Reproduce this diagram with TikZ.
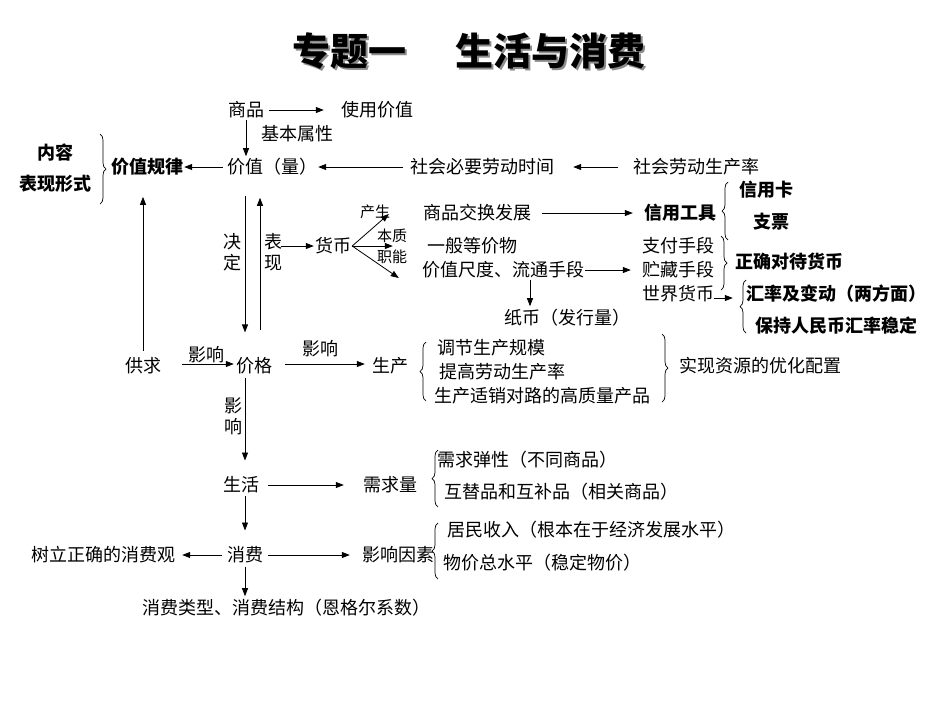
\documentclass[tikz,border=0pt]{standalone}
\usepackage{fontspec}
\setmainfont{Noto Sans CJK SC}
\usetikzlibrary{arrows.meta,decorations.pathreplacing,calc}
\newcommand{\titletext}{专题一\hspace{1.3em}生活与消费}
\begin{document}
\begin{tikzpicture}[x=1pt,y=-1pt,
  t/.style={inner sep=1pt,font=\fontsize{18}{21}\selectfont},
  tb/.style={inner sep=1pt,font=\fontsize{18}{21}\selectfont\bfseries},
  ts/.style={inner sep=0pt,font=\fontsize{15}{17}\selectfont},
  arr/.style={-{Triangle[length=8pt,width=6pt]},line width=0.8pt},
  br/.style={decorate,decoration={brace,amplitude=6pt},line width=0.7pt}]
\useasboundingbox (0,0) rectangle (950,713);
% title (with shadow in the same node)
\node[font=\fontsize{38}{40}\selectfont\bfseries] (title) at (469,51)
  {\makebox[0pt][l]{\raisebox{-2pt}[0pt][0pt]{\hspace{2pt}\color{black!45}\titletext}}\titletext};
% top rows
\node[t] (sp) at (246,110) {商品};
\node[t] (syjz) at (377,110) {使用价值};
\node[t] (jbsx) at (297,134) {基本属性};
\node[t] (jz) at (272,167) {价值（量）};
\node[tb] (jzgl) at (147,167) {价值规律};
\node[tb] (nr) at (55,153) {内容};
\node[tb] (bxxs) at (55,184) {表现形式};
\node[t] (shbyl) at (482,167) {社会必要劳动时间};
\node[t] (shldscl) at (696,167) {社会劳动生产率};
\draw[arr] ($(sp.east)+(4,0)$) -- ($(syjz.west)+(-16,0)$);
\draw[arr] (sp.south) -- ($(sp.south |- jz.north)+(0,-1)$);
\draw[arr] ($(jz.west)+(-3,0)$) -- (jzgl.east);
\draw[br] (100,134) -- (100,204);
\draw[arr] ($(shbyl.west)+(-6,0)$) -- (jz.east);
\draw[arr] ($(shldscl.west)+(-14,0)$) -- ($(shbyl.east)+(18,0)$);
% price column
\node[t] (gq) at (143,366) {供求};
\node[t] (jg) at (254,366) {价格};
\node[t] (sc) at (390,366) {生产};
\draw[arr] ($(gq.north)+(0,-6)$) -- ($(jzgl.south -| gq.north)+(0,20)$);
\draw[arr] ($(jz.south -| jg.north)+(-9,19)$) -- ($(jg.north)+(-9,-24)$);
\draw[arr] ($(jg.north)+(6,-26)$) -- ($(jz.south -| jg.north)+(6,21)$);
\node[t,align=center] (jd) at (232,252) {决\\定};
\node[t,align=center] (bx) at (273,252) {表\\现};
% money
\node[t] (hb) at (333,246) {货币};
\draw[arr] ($(bx.east |- hb.west)+(-2,0)$) -- (hb.west);
\node[t] (spjhfz) at (477,213) {商品交换发展};
\node[t] (ybdjw) at (472,246) {一般等价物};
\node[t] (jzcd) at (503,270) {价值尺度、流通手段};
\draw[arr] (hb.east) -- ($(spjhfz.west)+(-33,1)$);
\draw[arr] (hb.east) -- ($(ybdjw.west)+(-33,0)$);
\draw[arr] (hb.east) -- ($(jzcd.west)+(-22,8)$);
\node[ts] (lcs) at (375,212) {产生};
\node[ts] (lbz) at (392,236) {本质};
\node[ts] (lzn) at (392,257) {职能};
\node[tb] (xygj) at (680,213) {信用工具};
\draw[arr] ($(spjhfz.east)+(10,0)$) -- ($(xygj.west)+(-10,0)$);
\draw[br] (728,240) -- (728,182);
\node[tb] (xyk) at (766,190) {信用卡};
\node[tb] (zp) at (771,222) {支票};
\node[t] (zfsd) at (678,246) {支付手段};
\node[t] (zcsd) at (678,270) {贮藏手段};
\node[t] (sjhb) at (678,294) {世界货币};
\draw[arr] (jzcd.east) -- ($(zcsd.west)+(-10,0)$);
\draw[br] (721,236) -- (721,290);
\node[tb] (zqdd) at (789,262) {正确对待货币};
\node[tb] (hlbd) at (836,294) {汇率及变动（两方面）};
\node[tb] (bcrmb) at (836,326) {保持人民币汇率稳定};
\draw[br] (746,333) -- (746,280);
\draw[arr] ($(sjhb.east)+(-1,4)$) -- ($(hlbd.west)+(-12,4)$);
\node[t] (zb) at (567,318) {纸币（发行量）};
\draw[arr] ($(jzcd.south)+(27,0)$) -- ($(jzcd.south |- zb.north)+(27,-2)$);
% production
\draw[arr] ($(gq.east)+(20,-2)$) -- ($(jg.west)+(-1,-2)$);
\node[t] (lyx1) at (206,355) {影响};
\draw[arr] ($(jg.east)+(12,-2)$) -- ($(sc.west)+(-6,-2)$);
\node[t] (lyx2) at (320,349) {影响};
\draw[br] (426,401) -- (426,342);
\node[t] (tjsc) at (491,348) {调节生产规模};
\node[t] (tgld) at (502,372) {提高劳动生产率};
\node[t] (scsx) at (542,396) {生产适销对路的高质量产品};
\draw[br] (662,334) -- (662,402);
\node[t] (sxzy) at (760,366) {实现资源的优化配置};
% life & consumption
\node[t] (sh) at (241,485) {生活};
\node[t,align=center] (lyx3) at (233,416) {影\\响};
\draw[arr] ($(jg.south)+(-9,2)$) -- ($(sh.north)+(4,-15)$);
\node[t] (xql) at (390,485) {需求量};
\draw[arr] ($(sh.east)+(8,0)$) -- ($(xql.west)+(-18,0)$);
\draw[br] (438,507) -- (438,450);
\node[t] (xqtx) at (527,460) {需求弹性（不同商品）};
\node[t] (htp) at (561,492) {互替品和互补品（相关商品）};
\node[t] (xf) at (245,555) {消费};
\draw[arr] ($(sh.south)+(4,2)$) -- ($(xf.north)+(0,-15)$);
\node[t] (slzq) at (103,555) {树立正确的消费观};
\draw[arr] ($(xf.west)+(-4,0)$) -- ($(slzq.east)+(6,0)$);
\node[t] (yxys) at (398,555) {影响因素};
\draw[arr] ($(xf.east)+(4,0)$) -- ($(yxys.west)+(-11,0)$);
\draw[br] (438,579) -- (438,523);
\node[t] (jmsr) at (591,530) {居民收入（根本在于经济发展水平）};
\node[t] (wjz) at (542,563) {物价总水平（稳定物价）};
\node[t] (xflx) at (286,608) {消费类型、消费结构（恩格尔系数）};
\draw[arr] ($(xf.south)+(0,2)$) -- ($(xf.south |- xflx.north)+(0,-2)$);
\end{tikzpicture}
\end{document}
